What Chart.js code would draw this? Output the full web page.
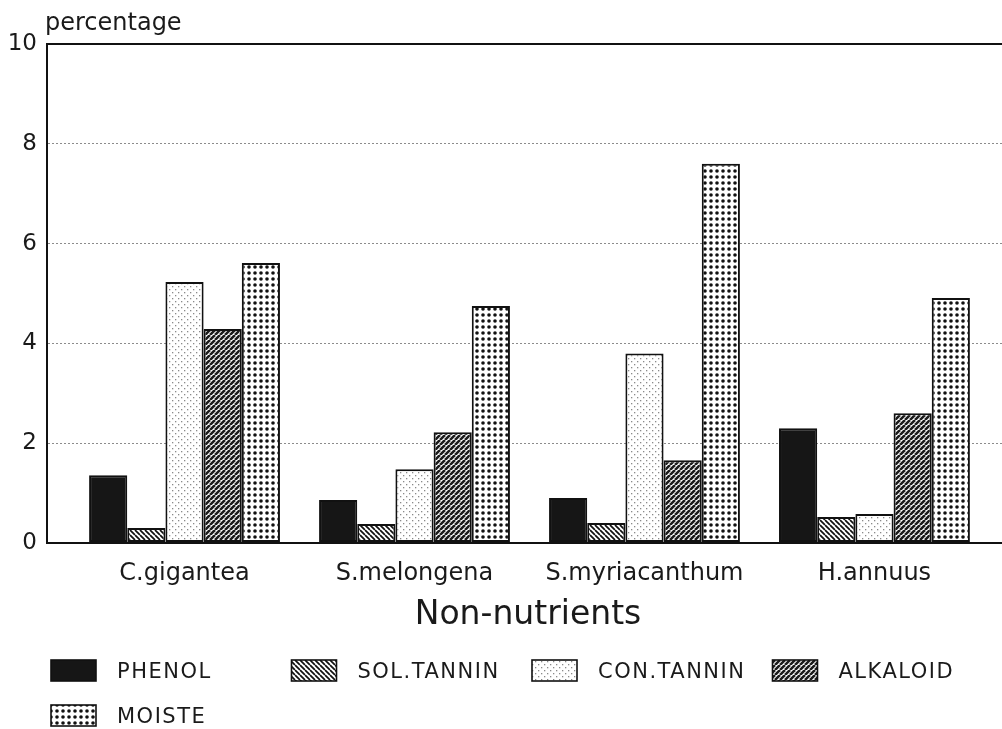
<!DOCTYPE html>
<html>
<head>
<meta charset="utf-8">
<script src="https://cdn.jsdelivr.net/npm/chart.js@4.4.1/dist/chart.umd.min.js"></script>
<style>
  html, body { margin: 0; padding: 0; background: #fff; overflow: hidden; }
  #wrap { width: 1010px; height: 729px; }
</style>
</head>
<body>
<div id="wrap"><canvas id="c" width="1010" height="729"></canvas></div>
<script>
// values (percentage)
const CATEGORIES = ['C.gigantea', 'S.melongena', 'S.myriacanthum', 'H.annuus'];
const PHENOL     = [1.36, 0.86, 0.90, 2.30];
const SOL_TANNIN = [0.30, 0.38, 0.40, 0.52];
const CON_TANNIN = [5.23, 1.48, 3.80, 0.58];
const ALKALOID   = [4.29, 2.22, 1.66, 2.60];
const MOISTE     = [5.61, 4.75, 7.60, 4.91];
const Y_TICKS    = [0, 2, 4, 6, 8, 10];

const FONT = '"DejaVu Sans", sans-serif';
const INK  = '#1a1a1a';

const canvas = document.getElementById('c');
const ctx = canvas.getContext('2d');

// small repeating fills that mimic the plotter hatching
function makePattern(size, draw) {
  const c = document.createElement('canvas');
  c.width = c.height = size;
  const p = c.getContext('2d');
  p.fillStyle = '#fff';
  p.fillRect(0, 0, size, size);
  draw(p, size);
  return ctx.createPattern(c, 'repeat');
}

const fills = {
  phenol: '#161616',
  sol: makePattern(5, (p, s) => {          // "\\\\" open hatch
    p.strokeStyle = '#111'; p.lineWidth = 1.7; p.beginPath();
    for (const o of [-s, 0, s]) { p.moveTo(o, 0); p.lineTo(o + s, s); }
    p.stroke();
  }),
  con: makePattern(6, (p) => {             // sparse light stipple
    p.fillStyle = '#8a8a8a';
    p.fillRect(1, 1, 1.3, 1.3);
    p.fillRect(4, 4, 1.3, 1.3);
  }),
  alk: makePattern(5, (p, s) => {          // "////" dense dark hatch
    p.strokeStyle = '#1c1c1c'; p.lineWidth = 2.6; p.beginPath();
    for (const o of [-s, 0, s]) { p.moveTo(o, s); p.lineTo(o + s, 0); }
    p.stroke();
  }),
  moist: makePattern(6, (p) => {           // grid of black dots
    p.fillStyle = '#111';
    p.beginPath(); p.arc(3, 3, 1.8, 0, Math.PI * 2); p.fill();
  }),
};

const toPoints = arr => arr.map((y, i) => ({ x: i, y }));

const barStyle = fill => ({
  backgroundColor: fill,
  borderColor: '#111',
  borderWidth: 2,
  borderSkipped: false,
  categoryPercentage: 0.83,
  barPercentage: 1.0,
});

// "percentage" caption and the bottom legend
const decor = {
  id: 'decor',
  afterDraw(chart) {
    const c = chart.ctx;
    c.save();
    c.fillStyle = INK;
    c.font = '24px ' + FONT;
    c.textBaseline = 'alphabetic';
    c.fillText('percentage', 45, 30);

    c.font = '21px ' + FONT;
    c.letterSpacing = '1.5px';
    c.textBaseline = 'middle';
    chart.data.datasets.forEach((ds, i) => {
      const x = 51 + (i % 4) * 240.5;
      const y = 660 + Math.floor(i / 4) * 45;
      c.fillStyle = ds.backgroundColor;
      c.fillRect(x, y, 45, 21);
      c.lineWidth = 1.6;
      c.strokeStyle = '#111';
      c.strokeRect(x, y, 45, 21);
      c.fillStyle = INK;
      c.fillText(ds.label, x + 66, y + 13);
    });
    c.restore();
  }
};

const isFrame = t => t && (t.value === 0 || t.value === 10);

new Chart(ctx, {
  type: 'bar',
  data: {
    datasets: [
      { label: 'PHENOL',     data: toPoints(PHENOL),     ...barStyle(fills.phenol) },
      { label: 'SOL.TANNIN', data: toPoints(SOL_TANNIN), ...barStyle(fills.sol) },
      { label: 'CON.TANNIN', data: toPoints(CON_TANNIN), ...barStyle(fills.con) },
      { label: 'ALKALOID',   data: toPoints(ALKALOID),   ...barStyle(fills.alk) },
      { label: 'MOISTE',     data: toPoints(MOISTE),     ...barStyle(fills.moist) },
    ],
  },
  options: {
    responsive: false,
    animation: false,
    devicePixelRatio: 1,
    layout: { padding: { top: 44, right: 1, bottom: 94, left: 0 } },
    scales: {
      x: {
        type: 'linear',
        offset: false,
        min: -0.598,
        max: 3.585,
        grid: { display: false, drawTicks: false, offset: false },
        border: { display: true, color: '#111', width: 2 },
        ticks: {
          stepSize: 1,
          includeBounds: false,
          autoSkip: false,
          maxRotation: 0,
          padding: 16,
          color: INK,
          font: { family: FONT, size: 24 },
          callback: v => CATEGORIES[v] ?? '',
        },
        title: {
          display: true,
          text: 'Non-nutrients',
          color: INK,
          font: { family: FONT, size: 33 },
          padding: 0,
        },
        afterFit: s => { s.height = 92; },
      },
      y: {
        min: 0,
        max: 10,
        afterBuildTicks: s => { s.ticks = Y_TICKS.map(v => ({ value: v })); },
        grid: {
          drawTicks: false,
          color: c => isFrame(c.tick) ? '#111' : '#8c8c8c',
          lineWidth: c => isFrame(c.tick) ? 2 : 1,
        },
        border: {
          display: true,
          color: '#111',
          width: 2,
          dash: c => (c.tick && !isFrame(c.tick)) ? [2, 2] : [],
        },
        ticks: {
          padding: 10,
          color: INK,
          font: { family: FONT, size: 23 },
        },
        afterFit: s => { s.width = 47; },
      },
    },
    plugins: {
      legend: { display: false },
      tooltip: { enabled: false },
    },
  },
  plugins: [decor],
});
</script>
</body>
</html>
